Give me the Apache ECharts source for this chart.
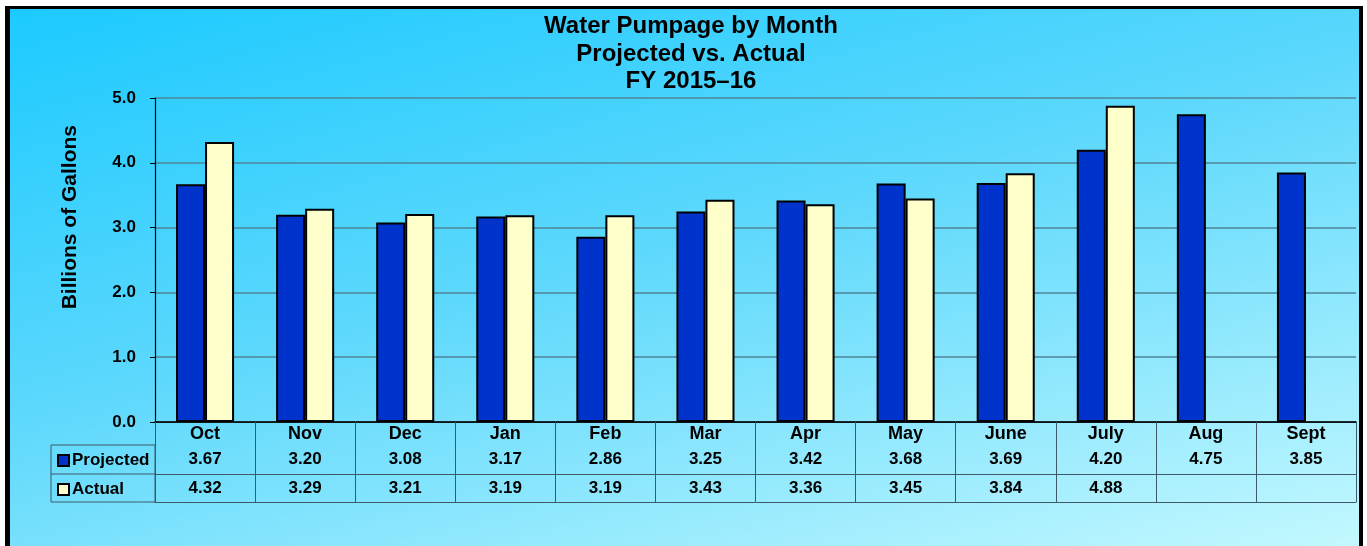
<!DOCTYPE html>
<html lang="en">
<head>
    <meta charset="UTF-8">
    <title>Water Pumpage by Month</title>
    <script src="https://cdn.jsdelivr.net/npm/echarts@6/dist/echarts.min.js"></script>
    <style>
        body { margin: 0; background: #fff; }
        #wrap { position: relative; width: 1367px; height: 546px; overflow: hidden; }
        #frame {
            position: absolute; left: 5px; top: 6px; width: 1349px; height: 550px;
            border-left: 5px solid #000; border-top: 3px solid #000; border-right: 4px solid #000;
            background: linear-gradient(165deg, #1ccaff 0%, #5dd8fc 45%, #c6f9ff 100%);
        }
        #main { position: absolute; left: 0; top: 0; width: 1367px; height: 546px; }
    </style>
</head>
<body>
<div id="wrap">
    <div id="frame"></div>
    <div id="main"></div>
</div>
<script>
    var months = ['Oct', 'Nov', 'Dec', 'Jan', 'Feb', 'Mar', 'Apr', 'May', 'June', 'July', 'Aug', 'Sept'];
    var projected = [3.67, 3.20, 3.08, 3.17, 2.86, 3.25, 3.42, 3.68, 3.69, 4.20, 4.75, 3.85];
    var actual = [4.32, 3.29, 3.21, 3.19, 3.19, 3.43, 3.36, 3.45, 3.84, 4.88, null, null];
    var yTicks = [0, 1, 2, 3, 4, 5];

    var font = 'Arial, "Liberation Sans", sans-serif';
    var lineCol = '#3f5a66';

    function fmt(arr) {
        return function (v, i) {
            return arr[i] == null ? '' : arr[i].toFixed(2);
        };
    }

    var tableAxis = function (offset, labels) {
        return {
            type: 'category',
            data: months,
            position: 'bottom',
            offset: offset,
            axisLine: { show: true, lineStyle: { color: lineCol, width: 1 } },
            axisTick: { show: false },
            axisLabel: labels ? {
                show: true, margin: 6, interval: 0,
                formatter: labels,
                fontFamily: font, fontWeight: 'bold', fontSize: 17, color: '#000'
            } : { show: false },
            splitLine: { show: false }
        };
    };

    var myChart = echarts.init(document.getElementById('main'));
    var option = {
        backgroundColor: 'transparent',
        animation: false,
        title: {
            text: 'Water Pumpage by Month\nProjected vs. Actual\nFY 2015\u201316',
            left: 686, top: 8, textAlign: 'center',
            textStyle: { fontFamily: font, fontWeight: 'bold', fontSize: 24, lineHeight: 27.5, color: '#000' }
        },
        legend: {
            orient: 'vertical',
            left: 57, top: 452, padding: 0,
            itemWidth: 11, itemHeight: 11, itemGap: 12,
            icon: 'rect',
            textStyle: { fontFamily: font, fontWeight: 'bold', fontSize: 17, color: '#000', padding: [0, 0, 0, -2] },
            data: ['Projected', 'Actual']
        },
        grid: { left: 155, right: 11, top: 98, bottom: 124, containLabel: false },
        xAxis: [
            {
                type: 'category',
                data: months,
                position: 'bottom',
                axisLine: { show: true, onZero: false, lineStyle: { color: '#000', width: 1.5 } },
                axisTick: { show: true, length: 80, lineStyle: { color: lineCol, width: 1 } },
                axisLabel: { interval: 0, margin: 3, fontFamily: font, fontWeight: 'bold', fontSize: 18, color: '#000' },
                z: 5
            },
            tableAxis(23, fmt(projected)),
            tableAxis(52, fmt(actual)),
            tableAxis(80, null)
        ],
        yAxis: {
            type: 'value',
            min: yTicks[0], max: yTicks[yTicks.length - 1], interval: 1,
            axisLine: { show: true, lineStyle: { color: '#000', width: 1.2 } },
            axisTick: { show: true, length: 5, lineStyle: { color: '#000' } },
            axisLabel: {
                margin: 19, fontFamily: font, fontWeight: 'bold', fontSize: 17, color: '#000',
                formatter: function (v) { return v.toFixed(1); }
            },
            splitLine: { show: true, lineStyle: { color: '#4f8597', width: 1.5 } }
        },
        graphic: [
            {
                type: 'text', left: 60, top: 125, rotation: Math.PI / 2,
                style: { text: 'Billions of Gallons', font: 'bold 21px ' + font, fill: '#000' }
            },
            {
                type: 'rect', shape: { x: 51, y: 445, width: 104, height: 57 },
                style: { fill: 'none', stroke: lineCol, lineWidth: 1 }
            },
            {
                type: 'line', shape: { x1: 51, y1: 474, x2: 155, y2: 474 },
                style: { stroke: lineCol, lineWidth: 1 }
            }
        ],
        series: [
            {
                name: 'Projected', type: 'bar', data: projected,
                barGap: '0%', barCategoryGap: '42%',
                itemStyle: { color: '#0033cc', borderColor: '#000', borderWidth: 2 }
            },
            {
                name: 'Actual', type: 'bar', data: actual,
                itemStyle: { color: '#ffffcc', borderColor: '#000', borderWidth: 2 }
            }
        ]
    };
    myChart.setOption(option);
</script>
</body>
</html>
